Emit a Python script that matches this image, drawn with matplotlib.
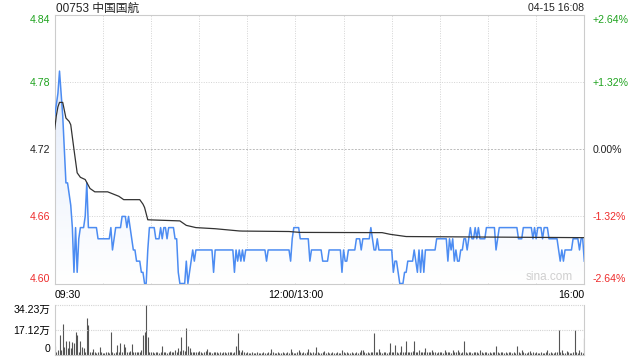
import matplotlib
matplotlib.use("Agg")
import matplotlib.pyplot as plt
import numpy as np
from matplotlib.colors import LinearSegmentedColormap

plt.rcParams['font.family'] = ['Liberation Sans', 'Noto Sans CJK SC', 'DejaVu Sans']
plt.rcParams['font.size'] = 7.6

# ---------------- data ----------------
title = "00753 中国国航"
timestamp = "04-15 16:08"
x_tick_pos = [0, 150, 330]
x_tick_labels = ["09:30", "12:00/13:00", "16:00"]
price_ticks = [4.60, 4.66, 4.72, 4.78, 4.84]
price_tick_labels = ["4.60", "4.66", "4.72", "4.78", "4.84"]
pct_tick_labels = ["-2.64%", "-1.32%", "0.00%", "+1.32%", "+2.64%"]
vol_ticks = [0, 17.12, 34.23]
vol_tick_labels = ["0", "17.12万", "34.23万"]
watermark = "sina.com"

price = [
    4.75, 4.76, 4.77, 4.79, 4.77, 4.75, 4.72, 4.69, 4.69, 4.68,
    4.67, 4.65, 4.61, 4.65, 4.61, 4.64, 4.65, 4.65, 4.65, 4.66,
    4.69, 4.65, 4.65, 4.65, 4.65, 4.65, 4.65, 4.64, 4.64, 4.64,
    4.64, 4.64, 4.64, 4.64, 4.64, 4.65, 4.63, 4.64, 4.65, 4.65,
    4.65, 4.65, 4.66, 4.66, 4.66, 4.65, 4.66, 4.65, 4.64, 4.63,
    4.63, 4.62, 4.62, 4.62, 4.61, 4.61, 4.60, 4.60, 4.63, 4.65,
    4.65, 4.65, 4.65, 4.64, 4.64, 4.64, 4.65, 4.64, 4.65, 4.65,
    4.64, 4.65, 4.65, 4.65, 4.65, 4.64, 4.64, 4.61, 4.60, 4.60,
    4.60, 4.60, 4.62, 4.60, 4.61, 4.62, 4.63, 4.62, 4.63, 4.63,
    4.63, 4.63, 4.63, 4.63, 4.63, 4.63, 4.63, 4.63, 4.63, 4.61,
    4.63, 4.63, 4.63, 4.63, 4.63, 4.63, 4.63, 4.63, 4.63, 4.63,
    4.63, 4.63, 4.61, 4.63, 4.62, 4.63, 4.62, 4.63, 4.62, 4.63,
    4.63, 4.63, 4.63, 4.63, 4.63, 4.63, 4.63, 4.63, 4.63, 4.63,
    4.63, 4.63, 4.62, 4.63, 4.63, 4.63, 4.63, 4.63, 4.63, 4.63,
    4.63, 4.63, 4.63, 4.63, 4.63, 4.63, 4.63, 4.62, 4.64, 4.65,
    4.65, 4.65, 4.65, 4.64, 4.64, 4.64, 4.64, 4.64, 4.64, 4.62,
    4.63, 4.63, 4.63, 4.63, 4.63, 4.63, 4.63, 4.62, 4.62, 4.62,
    4.62, 4.63, 4.63, 4.63, 4.63, 4.63, 4.63, 4.63, 4.63, 4.61,
    4.63, 4.62, 4.62, 4.63, 4.63, 4.63, 4.63, 4.63, 4.64, 4.64,
    4.64, 4.63, 4.64, 4.64, 4.64, 4.64, 4.64, 4.65, 4.64, 4.63,
    4.63, 4.64, 4.63, 4.63, 4.63, 4.63, 4.63, 4.63, 4.63, 4.63,
    4.63, 4.61, 4.62, 4.62, 4.61, 4.60, 4.60, 4.60, 4.61, 4.61,
    4.62, 4.62, 4.62, 4.62, 4.63, 4.62, 4.61, 4.63, 4.61, 4.63,
    4.61, 4.63, 4.63, 4.63, 4.63, 4.63, 4.63, 4.63, 4.64, 4.64,
    4.64, 4.64, 4.64, 4.64, 4.64, 4.62, 4.64, 4.63, 4.64, 4.62,
    4.63, 4.62, 4.62, 4.63, 4.63, 4.64, 4.64, 4.63, 4.64, 4.65,
    4.64, 4.64, 4.65, 4.64, 4.65, 4.64, 4.64, 4.64, 4.64, 4.65,
    4.65, 4.65, 4.65, 4.65, 4.65, 4.63, 4.64, 4.65, 4.65, 4.65,
    4.65, 4.65, 4.65, 4.65, 4.65, 4.65, 4.65, 4.65, 4.65, 4.64,
    4.64, 4.64, 4.65, 4.65, 4.65, 4.65, 4.65, 4.65, 4.64, 4.65,
    4.64, 4.65, 4.65, 4.65, 4.64, 4.65, 4.65, 4.65, 4.64, 4.64,
    4.64, 4.64, 4.64, 4.64, 4.63, 4.62, 4.63, 4.62, 4.63, 4.63,
    4.63, 4.63, 4.63, 4.64, 4.64, 4.64, 4.64, 4.63, 4.64, 4.64,
    4.62,
]

avg_minutes = [0, 1, 2, 3, 5, 7, 9, 10, 12, 14, 16, 19, 22, 25, 33, 40, 43,
               53, 55, 56, 58, 78, 82, 88, 100, 115, 117, 146, 153, 204, 209, 219, 330]
avg_values = [4.738, 4.750, 4.758, 4.762, 4.762, 4.748, 4.745, 4.742, 4.720, 4.699,
              4.695, 4.693, 4.685, 4.682, 4.682, 4.678, 4.675, 4.675, 4.671, 4.668,
              4.657, 4.656, 4.652, 4.650, 4.649, 4.647, 4.6469, 4.6465, 4.6457,
              4.6455, 4.644, 4.642, 4.641]

volume = [
    6, 2, 3, 13.4, 3, 20.8, 5, 9.6, 4.6, 9,
    4.3, 8.7, 8, 15.7, 13.7, 2, 9, 5, 4.6, 2,
    25.4, 20.3, 2, 1.5, 3.5, 1.5, 1.2, 2, 5, 1.5,
    1, 1.2, 1.5, 1.5, 1, 15.3, 1.5, 1, 2, 6.8,
    1.5, 8, 2, 7, 5.5, 1.5, 2, 2.5, 7.5, 1.5,
    2, 2, 1.5, 2, 3, 13.7, 15.3, 34.23, 12, 1.5,
    2, 1.5, 1, 2, 1.5, 1, 2, 5.7, 2, 1.5,
    1, 1.5, 2.5, 1.5, 2, 3, 2, 4.6, 2.5, 11.8,
    3, 2.5, 18, 5.7, 4.6, 2, 2, 1.5, 2, 1.5,
    2.5, 1.5, 1, 2, 2.5, 4, 1.5, 2, 1.2, 1.5,
    2, 1.5, 1, 1.5, 1.2, 2, 1.5, 1, 1.5, 2,
    1.5, 1.2, 2, 5.7, 15, 3, 1.5, 2.8, 1.5, 1,
    1.5, 1.2, 1, 1.5, 1, 1.2, 1.5, 1, 1.2, 1,
    1.5, 1, 1.2, 1.5, 1, 3.5, 1.5, 1.2, 1, 1.5,
    1.2, 1, 1.5, 1, 1.2, 1.5, 1, 3.5, 1.5, 1,
    1.2, 1.5, 3, 1.5, 1, 1.5, 1.2, 2, 4, 1.5,
    1, 1.5, 1.2, 5.5, 1.5, 1, 1.2, 1.5, 2.5, 1,
    1.5, 1.2, 1, 1.5, 1, 1.2, 1.5, 1, 1.2, 2.8,
    1.5, 1, 1.5, 1.2, 1, 1.5, 1.2, 1, 1.5, 1.2,
    2, 3.4, 3, 1.5, 1, 1.5, 1.2, 2, 1.5, 15,
    1.5, 2, 3.5, 1.5, 1, 2, 1.5, 1.2, 2, 8.2,
    1.5, 2, 6.5, 1.5, 1.2, 2, 5.6, 1.5, 2, 9,
    1.5, 2, 1.5, 2.5, 9, 1.5, 2, 3.4, 1.5, 2,
    1.5, 4.6, 2, 1.5, 2, 3, 1.5, 2, 1.2, 1.5,
    2, 1.5, 1.2, 2.8, 1.5, 2, 1.5, 1.2, 3.4, 1.5,
    2, 3.4, 1.5, 1.2, 2, 9, 1.5, 1.2, 2, 1.5,
    1.2, 1.5, 2, 1.5, 1.2, 3.4, 1.5, 1.2, 1.5, 2,
    1.2, 1.5, 1, 1.5, 2, 5.7, 1.5, 1.2, 2, 1.5,
    1, 1.5, 1.2, 2, 1.5, 1, 1.5, 1.2, 5.7, 1.5,
    1.2, 3.4, 1.5, 1, 1.2, 1.5, 2.3, 1, 1.5, 1.2,
    1.5, 1, 1.2, 1.5, 1, 1.2, 1.5, 2.8, 1, 1.5,
    1.2, 1, 1.5, 2, 17.1, 1.5, 2.8, 1.2, 1, 2.3,
    1.5, 1.2, 1, 2, 17.1, 1.5, 1.2, 3.4, 1.5, 1,
    11.4,
]

# ---------------- styles ----------------
GREEN = '#1fa31f'
RED = '#ee2b2b'
BLACK = '#222222'
BORDER = '#cccccc'
GRID = '#d4d4d4'
BLUE = '#4c8cf2'

minutes = np.arange(len(price))
xmax = x_tick_pos[-1]

fig = plt.figure(figsize=(6.4, 3.6), dpi=100)
L = 54.7 / 640
W = 529.6 / 640
ax = fig.add_axes([L, (360 - 283.5) / 360, W, (283.5 - 15.2) / 360])
axv = fig.add_axes([L, (360 - 354.5) / 360, W, (354.5 - 305) / 360])

# ---- price panel ----
fill = ax.fill_between(minutes, price, price_ticks[0], color='none', lw=0)
grad = np.linspace(1, 0, 256).reshape(-1, 1)
cmap = LinearSegmentedColormap.from_list('g', ['#ffffff', '#dce7fa'])
im = ax.imshow(grad, extent=[0, xmax, price_ticks[0], price_ticks[-1]],
               aspect='auto', cmap=cmap, origin='upper', zorder=1)
im.set_clip_path(fill.get_paths()[0], transform=ax.transData)

for m in range(30, xmax, 30):
    ax.axvline(m, color=GRID, lw=0.7, ls=(0, (1, 1.5)), zorder=0.5)
for i, t in enumerate(price_ticks[1:-1]):
    ax.axhline(t, color='#bbbbbb' if t == 4.72 else GRID, lw=0.7,
               ls=(0, (2, 1.5)) if t == 4.72 else (0, (1, 1.5)), zorder=0.5)

ax.plot(minutes, price, color=BLUE, lw=1.1, zorder=3)
ax.plot(avg_minutes, avg_values, color='#333333', lw=0.9, zorder=4)

ax.set_xlim(0, xmax)
ax.set_ylim(price_ticks[0], price_ticks[-1])
for s in ax.spines.values():
    s.set_color(BORDER)
    s.set_linewidth(0.8)

label_colors = [RED, RED, BLACK, GREEN, GREEN]
ax.set_yticks(price_ticks, price_tick_labels)
ax.tick_params(axis='y', length=0, pad=3)
for i, lab in enumerate(ax.get_yticklabels()):
    lab.set_color(label_colors[i])
    if i == 0:
        lab.set_va('bottom')
    elif i == len(price_ticks) - 1:
        lab.set_va('top')

ax.set_xticks(x_tick_pos, x_tick_labels)
ax.tick_params(axis='x', length=0, pad=5)
for lab, ha in zip(ax.get_xticklabels(), ['left', 'center', 'right']):
    lab.set_ha(ha)

ax2 = ax.twinx()
ax2.set_ylim(price_ticks[0], price_ticks[-1])
ax2.set_yticks(price_ticks, pct_tick_labels)
ax2.tick_params(axis='y', length=0, pad=6)
for i, lab in enumerate(ax2.get_yticklabels()):
    lab.set_color(label_colors[i])
    if i == 0:
        lab.set_va('bottom')
    elif i == len(price_ticks) - 1:
        lab.set_va('top')
for s in ax2.spines.values():
    s.set_visible(False)

ax.text(0.979, 0.0, watermark, transform=ax.transAxes, ha='right', va='bottom',
        color='#cfcfcf', fontsize=8.5, zorder=2)

# ---- volume panel ----
axv.vlines(minutes, 0, volume, color='#555555', lw=0.8)
axv.set_xlim(0, xmax)
axv.set_ylim(0, vol_ticks[-1])
axv.set_xticks([])
axv.set_yticks(vol_ticks, vol_tick_labels)
axv.tick_params(axis='y', length=0, pad=3)
vl = axv.get_yticklabels()
vl[0].set_va('bottom')
vl[-1].set_va('top')
for t in vol_ticks[1:]:
    axv.axhline(t, color=GRID, lw=0.8, ls=(0, (1, 1)), clip_on=False)
axv.spines['top'].set_visible(False)
for k in ['left', 'right', 'bottom']:
    axv.spines[k].set_color(BORDER)
    axv.spines[k].set_linewidth(0.8)

fig.text(55.5 / 640, 1 - 8.3 / 360, title, ha='left', va='center', fontsize=8.5, color=BLACK)
fig.text(584.3 / 640, 1 - 8.3 / 360, timestamp, ha='right', va='center', fontsize=7.6, color=BLACK)

fig.savefig('out.png', dpi=100)
